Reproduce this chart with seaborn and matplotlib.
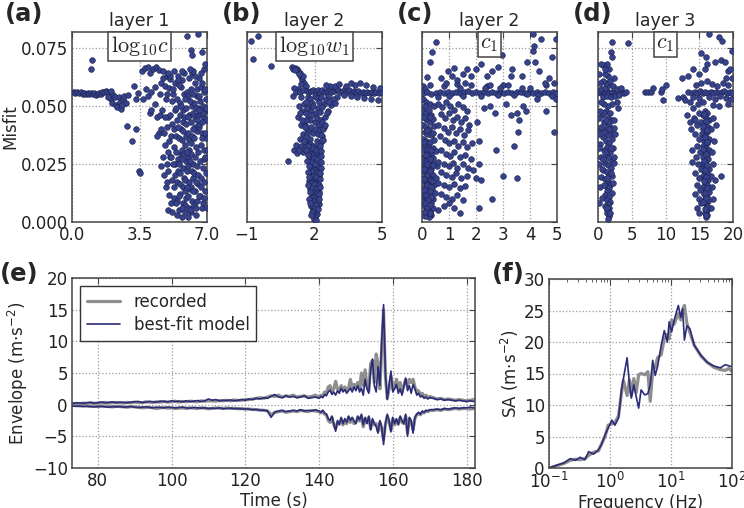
import numpy as np
import matplotlib
matplotlib.use("Agg")
import matplotlib.pyplot as plt
import seaborn as sns
from matplotlib.lines import Line2D

sns.set_style("white")
plt.rcParams['font.family'] = ['DejaVu Sans']

# ---------------- scatter data (parameter value, misfit) ----------------
pts_a = [
 (0.08,.0560),(0.18,.0557),(0.27,.0561),(0.36,.0556),(0.45,.0559),(0.55,.0554),(0.63,.0557),(0.72,.0553),(0.82,.0556),(0.9,.0551),
 (0.98,.0555),(1.07,.0552),(1.16,.0556),(1.25,.0550),(1.33,.0554),(1.42,.0557),(1.5,.0553),(1.58,.0560),(1.66,.0563),(1.74,.0567),
 (1.82,.0559),(1.9,.0556),(1.97,.0545),(2.03,.0530),(2.08,.0512),(2.14,.0548),(2.22,.0538),(2.28,.0505),(2.35,.0497),(2.42,.0540),
 (2.5,.0520),(2.55,.0488),(2.62,.0532),(2.7,.0545),(2.8,.0515),(2.88,.0548),(1.85,.0540),(2.0,.0565),(2.6,.0505),
 (1.0,.0660),(1.04,.0700),(2.85,.0415),(3.12,.0350),(3.32,.0400),(3.48,.0222),(3.53,.0210),(3.2,.0585),(3.42,.0555),(3.3,.0530),
 (3.62,.0650),(3.78,.0663),(3.92,.0668),(4.05,.0642),(4.22,.0662),(4.38,.0668),(4.52,.0655),(3.82,.0572),(3.95,.0545),(4.12,.0562),
 (4.3,.0510),(4.02,.0470),(4.4,.0452),(3.7,.0532),(4.62,.0600),(4.72,.0622),(4.82,.0585),(4.9,.0632),(4.28,.0582),(4.12,.0485),
 (4.5,.0382),(4.42,.0370),(4.6,.0402),(4.8,.0332),(4.7,.0282),(4.62,.0242),(4.76,.0202),(4.88,.0152),(4.55,.0462),(4.85,.0532),
 (4.68,.0482),(4.95,.0412),(4.58,.0552),
 (4.97,.0052),(5.03,.0118),(4.99,.0222),(5.05,.0348),(4.96,.0452),(5.02,.0578),(5.08,.0282),(4.94,.0172),
 (5.12,.0082),(5.18,.0182),(5.13,.0282),(5.2,.0422),(5.16,.0522),(5.1,.0618),(5.19,.0042),(5.14,.0372),
 (5.27,.0152),(5.33,.0252),(5.29,.0322),(5.35,.0482),(5.26,.0552),(5.31,.0102),(5.36,.0202),(5.28,.0402),(5.32,.0602),
 (5.42,.0032),(5.47,.0092),(5.44,.0172),(5.49,.0272),(5.41,.0372),(5.46,.0442),(5.43,.0532),(5.48,.0632),(5.5,.0222),(5.4,.0492),
 (5.57,.0052),(5.62,.0122),(5.58,.0212),(5.63,.0292),(5.56,.0362),(5.61,.0462),(5.59,.0512),(5.64,.0582),(5.55,.0252),(5.66,.0402),(5.6,.0162),
 (5.72,.0022),(5.77,.0082),(5.73,.0152),(5.78,.0232),(5.71,.0312),(5.76,.0392),(5.74,.0482),(5.79,.0552),(5.7,.0612),(5.8,.0192),(5.75,.0432),(5.72,.0352),
 (5.87,.0042),(5.92,.0102),(5.88,.0182),(5.93,.0262),(5.86,.0332),(5.91,.0422),(5.89,.0492),(5.94,.0562),(5.85,.0132),(5.95,.0222),(5.9,.0372),(5.88,.0072),
 (6.02,.0022),(6.07,.0062),(6.03,.0112),(6.08,.0172),(6.01,.0242),(6.06,.0312),(6.04,.0382),(6.09,.0462),(6.0,.0542),(6.05,.0622),(6.1,.0142),(6.03,.0282),(6.07,.0352),
 (6.17,.0042),(6.22,.0092),(6.18,.0152),(6.23,.0222),(6.16,.0292),(6.21,.0372),(6.19,.0432),(6.24,.0502),(6.15,.0572),(6.2,.0642),(6.25,.0192),(6.18,.0342),
 (6.32,.0072),(6.37,.0132),(6.33,.0212),(6.38,.0282),(6.31,.0362),(6.36,.0452),(6.34,.0512),(6.39,.0602),(6.3,.0252),(6.4,.0412),
 (6.47,.0092),(6.52,.0162),(6.48,.0242),(6.53,.0302),(6.46,.0392),(6.51,.0462),(6.49,.0542),(6.54,.0492),(6.45,.0062),(6.55,.0202),(6.5,.0572),
 (6.62,.0112),(6.67,.0192),(6.63,.0262),(6.68,.0332),(6.61,.0412),(6.66,.0472),(6.64,.0522),(6.69,.0582),(6.6,.0622),(6.7,.0152),
 (6.77,.0082),(6.82,.0172),(6.78,.0232),(6.83,.0312),(6.76,.0382),(6.81,.0452),(6.79,.0502),(6.84,.0562),(6.75,.0602),(6.85,.0272),
 (6.92,.0132),(6.95,.0212),(6.91,.0282),(6.96,.0362),(6.93,.0442),(6.97,.0482),(6.94,.0532),(6.9,.0572),
 (5.98,.0802),(6.55,.0812),(6.15,.0742),(6.22,.0722),(6.72,.0732),(6.85,.0662),(6.92,.0682),(6.3,.0652),(6.7,.0642),(5.5,.0612),(5.8,.0642),
 (5.0,.0300),(5.1,.0460),(5.22,.0250),(5.24,.0572),(5.38,.0082),(5.39,.0302),(5.52,.0412),(5.53,.0112),(5.68,.0062),(5.69,.0272),
 (5.67,.0502),(5.82,.0292),(5.83,.0452),(5.84,.0532),(5.97,.0152),(5.98,.0302),(5.99,.0452),(6.12,.0052),(6.11,.0262),(6.13,.0522),
 (6.27,.0132),(6.28,.0402),(6.29,.0552),(6.42,.0032),(6.43,.0172),(6.44,.0322),(6.41,.0492),(6.57,.0112),(6.58,.0422),(6.59,.0542),
 (6.72,.0062),(6.73,.0362),(6.74,.0432),(6.87,.0102),(6.88,.0382),(6.89,.0482),(6.98,.0062),(6.99,.0312),(4.9,.0252),(4.8,.0452),
 (4.75,.0382),(4.92,.0552),(5.06,.0632),(5.7,.0652),(6.1,.0662),(6.4,.0632),(6.8,.0472),(6.95,.0492),(6.6,.0482),(6.3,.0472),
 (6.5,.0442),(5.55,.0592),(5.3,.0652),(5.0,.0642),(4.7,.0652),
]

pts_b = [
 (-0.82,.0780),(-0.5,.0802),(-0.72,.0702),(0.05,.0672),(0.82,.0262),(1.08,.0312),(1.18,.0332),(1.22,.0298),
 (0.98,.0668),(1.05,.0662),(1.12,.0665),(1.2,.0660),(1.28,.0652),(1.35,.0645),(1.4,.0625),(1.45,.0612),(1.5,.0630),(1.55,.0600),
 (1.42,.0595),(1.6,.0585),(1.3,.0638),(1.15,.0655),(1.25,.0575),(1.05,.0545),(1.1,.0580),(1.18,.0560),(1.35,.0560),(1.5,.0570),
 (1.65,.0565),(1.4,.0540),(1.3,.0500),(1.45,.0480),(1.25,.0455),(1.38,.0420),(1.55,.0510),(1.62,.0470),(1.48,.0380),(1.35,.0360),
 (1.42,.0330),(1.5,.0300),(1.3,.0310),(1.58,.0420),
 (1.75,.0560),(1.85,.0565),(1.95,.0570),(2.05,.0562),(2.15,.0568),(2.25,.0558),(2.35,.0570),(2.45,.0562),(2.55,.0566),(2.65,.0572),
 (2.75,.0560),(2.85,.0567),(2.95,.0575),(3.05,.0568),(3.15,.0560),(3.25,.0565),(3.35,.0572),(3.45,.0562),(3.55,.0570),(3.65,.0558),
 (3.75,.0566),(3.85,.0560),(3.95,.0565),(4.05,.0558),(4.15,.0562),(4.25,.0556),(4.35,.0560),(4.45,.0555),(4.55,.0559),(4.65,.0556),
 (4.75,.0560),(4.85,.0557),(4.95,.0561),(2.9,.0588),(3.1,.0595),(3.4,.0585),(3.6,.0600),(3.8,.0592),(4.0,.0598),(4.3,.0590),
 (4.6,.0582),(4.9,.0578),(2.7,.0585),(2.5,.0592),(3.3,.0550),(3.6,.0545),(3.9,.0540),(4.2,.0535),(4.5,.0530),(4.8,.0528),
 (3.0,.0540),(2.8,.0530),(2.6,.0545),
 (1.7,.0540),(1.8,.0530),(1.9,.0515),(2.0,.0545),(2.1,.0535),(2.2,.0520),(2.3,.0540),(2.4,.0510),(2.5,.0525),(1.75,.0495),
 (1.85,.0480),(1.95,.0500),(2.05,.0470),(2.15,.0490),(2.25,.0475),(2.35,.0495),(2.45,.0455),(2.6,.0480),(1.7,.0450),(1.8,.0440),
 (1.9,.0460),(2.0,.0430),(2.1,.0450),(2.2,.0420),(2.3,.0440),(2.4,.0410),(1.65,.0400),(1.75,.0395),(1.85,.0410),(1.95,.0385),
 (2.05,.0400),(2.15,.0380),(2.25,.0395),(2.35,.0370),(1.7,.0350),(1.8,.0360),(2.1,.0350),(2.3,.0345),(1.6,.0330),(2.75,.0505),
 (2.65,.0520),(2.9,.0515),(1.6,.0520),(1.65,.0490),
 (1.82,.0335),(1.95,.0330),(2.08,.0325),(2.18,.0320),(1.88,.0310),(2.02,.0305),(2.14,.0300),(1.78,.0295),(1.92,.0290),(2.06,.0285),
 (2.2,.0280),(1.85,.0270),(1.98,.0265),(2.12,.0260),(1.8,.0250),(1.94,.0245),(2.08,.0240),(2.22,.0238),(1.87,.0230),(2.01,.0225),
 (2.15,.0220),(1.79,.0212),(1.93,.0208),(2.06,.0205),(2.19,.0200),(1.84,.0192),(1.98,.0188),(2.11,.0185),(1.77,.0178),(1.91,.0172),
 (2.04,.0168),(2.17,.0165),(1.86,.0158),(2.0,.0152),(2.13,.0148),(1.8,.0142),(1.94,.0138),(2.08,.0132),(2.21,.0128),(1.88,.0122),
 (2.02,.0118),(2.15,.0112),(1.83,.0105),(1.96,.0100),(2.1,.0095),(1.9,.0088),(2.04,.0082),(2.18,.0078),(1.86,.0070),(2.0,.0065),
 (2.12,.0060),(1.93,.0052),(2.07,.0048),(1.98,.0040),(2.1,.0035),(1.95,.0028),(2.03,.0022),(1.99,.0015),
 (1.9,.0318),(2.05,.0312),(1.97,.0278),(2.1,.0272),(1.86,.0258),(2.0,.0252),(1.9,.0218),(2.12,.0212),(1.95,.0198),(2.07,.0195),
 (1.84,.0168),(1.98,.0162),(2.2,.0158),(1.9,.0148),(2.05,.0142),(1.96,.0128),(2.1,.0124),(1.92,.0108),(2.06,.0104),(1.97,.0092),
 (2.14,.0090),(1.9,.0075),(2.08,.0072),(2.02,.0058),(1.88,.0045),
 (1.62,.0440),(2.32,.0430),(1.58,.0410),(2.38,.0400),(1.66,.0380),(2.28,.0375),(1.6,.0365),(2.36,.0355),(1.7,.0330),(2.26,.0330),
 (1.64,.0310),(2.3,.0305),(1.72,.0290),(2.27,.0285),(1.68,.0265),(2.3,.0260),(1.74,.0240),(2.28,.0235),(1.7,.0215),(2.25,.0210),
 (1.76,.0195),(2.24,.0185),(1.72,.0160),(2.26,.0150),(1.78,.0130),(2.22,.0120),(1.75,.0100),(2.2,.0100),(1.8,.0080),(2.16,.0055),
 (1.85,.0030),(2.08,.0010),(1.55,.0350),(1.45,.0440),(2.45,.0420),(2.55,.0470),(1.35,.0470),
]

pts_c = [
 (0.05,.0480),(0.15,.0470),(0.25,.0485),(0.35,.0460),(0.1,.0450),(0.2,.0440),(0.3,.0430),(0.4,.0445),(0.05,.0420),(0.15,.0410),
 (0.25,.0400),(0.45,.0415),(0.1,.0390),(0.2,.0380),(0.35,.0375),(0.05,.0360),(0.15,.0350),(0.3,.0345),(0.45,.0355),(0.1,.0330),
 (0.25,.0325),(0.4,.0320),(0.05,.0310),(0.2,.0300),(0.35,.0295),(0.5,.0305),(0.1,.0285),(0.25,.0280),(0.4,.0275),(0.05,.0265),
 (0.15,.0260),(0.3,.0255),(0.45,.0250),(0.1,.0240),(0.2,.0235),(0.35,.0230),(0.55,.0240),(0.05,.0220),(0.15,.0215),(0.28,.0210),
 (0.42,.0205),(0.1,.0195),(0.22,.0190),(0.35,.0185),(0.5,.0190),(0.05,.0175),(0.17,.0170),(0.3,.0165),(0.45,.0160),(0.1,.0150),
 (0.24,.0145),(0.38,.0140),(0.05,.0130),(0.18,.0125),(0.32,.0120),(0.48,.0125),(0.1,.0110),(0.25,.0105),(0.4,.0100),(0.05,.0090),
 (0.18,.0085),(0.32,.0080),(0.1,.0070),(0.25,.0065),(0.4,.0060),(0.15,.0050),(0.3,.0045),(0.2,.0035),(0.35,.0030),(0.25,.0022),
 (0.12,.0028),
 (0.08,.0455),(0.3,.0455),(0.18,.0395),(0.4,.0385),(0.08,.0345),(0.22,.0315),(0.32,.0310),(0.15,.0290),(0.3,.0270),(0.2,.0250),
 (0.4,.0245),(0.08,.0230),(0.3,.0220),(0.2,.0205),(0.08,.0185),(0.28,.0180),(0.38,.0175),(0.2,.0160),(0.32,.0150),(0.08,.0140),
 (0.28,.0135),(0.15,.0115),(0.35,.0110),(0.22,.0095),(0.12,.0080),(0.3,.0075),(0.2,.0060),(0.1,.0045),(0.28,.0040),
 (0.05,.0530),(0.15,.0520),(0.3,.0510),(0.45,.0500),(0.1,.0500),(0.02,.0585),(0.1,.0575),(0.19,.0626),(0.31,.0691),(0.37,.0734),
 (0.52,.0777),
 (0.05,.0555),(0.2,.0560),(0.35,.0552),(0.5,.0558),(0.65,.0562),(0.8,.0555),(0.95,.0560),(1.1,.0556),(1.25,.0562),(1.4,.0558),
 (1.55,.0560),(1.7,.0565),(1.85,.0558),(2.0,.0562),(2.15,.0556),(2.3,.0560),(2.45,.0555),(2.6,.0562),(2.75,.0558),(2.9,.0560),
 (3.05,.0555),(3.2,.0562),(3.35,.0558),(3.5,.0560),(3.65,.0562),(3.8,.0556),(3.95,.0560),(4.1,.0558),(4.25,.0562),(4.4,.0556),
 (4.55,.0560),(4.7,.0557),(4.85,.0561),(4.97,.0558),(0.6,.0540),(1.0,.0545),(1.5,.0542),(2.2,.0545),(2.8,.0550),(3.4,.0548),
 (3.9,.0552),(4.3,.0550),(4.8,.0545),(0.3,.0590),(0.8,.0585),(1.3,.0595),(1.8,.0590),(2.4,.0588),(3.0,.0592),(3.7,.0580),
 (4.6,.0590),(4.9,.0600),
 (0.6,.0510),(0.75,.0495),(0.9,.0520),(1.05,.0500),(1.2,.0485),(1.35,.0510),(1.5,.0495),(1.65,.0480),(0.7,.0465),(0.85,.0450),
 (1.0,.0470),(1.15,.0440),(1.3,.0455),(1.45,.0430),(1.6,.0450),(1.75,.0420),(0.6,.0420),(0.8,.0405),(0.95,.0390),(1.1,.0410),
 (1.25,.0385),(1.4,.0400),(1.55,.0375),(1.7,.0395),(0.65,.0370),(0.85,.0355),(1.0,.0340),(1.2,.0350),(1.35,.0330),(1.5,.0345),
 (1.65,.0325),(1.85,.0340),(0.7,.0310),(0.9,.0295),(1.05,.0285),(1.2,.0300),(1.4,.0280),(1.6,.0290),(1.8,.0270),(0.6,.0260),
 (0.8,.0250),(1.0,.0240),(1.15,.0255),(1.3,.0235),(1.5,.0250),(1.7,.0235),(1.9,.0225),(0.7,.0215),(0.9,.0205),(1.1,.0195),
 (1.25,.0210),(1.45,.0190),(1.65,.0200),(0.6,.0170),(0.8,.0160),(1.0,.0150),(1.2,.0165),(1.4,.0145),(1.6,.0155),(0.7,.0120),
 (0.9,.0110),(1.1,.0100),(1.3,.0115),(1.5,.0095),(0.8,.0070),(1.2,.0060),(1.4,.0040),(0.6,.0050),(1.0,.0080),
 (0.7,.0620),(0.9,.0600),(1.1,.0630),(1.3,.0615),(1.5,.0640),(1.65,.0660),(1.8,.0630),(1.2,.0665),(0.95,.0650),(1.6,.0600),(1.4,.0580),
 (2.05,.0430),(2.1,.0350),(2.1,.0250),(2.2,.0180),(2.0,.0190),(2.1,.0060),(2.3,.0490),(2.5,.0500),(2.7,.0470),(2.6,.0650),
 (2.8,.0670),(2.4,.0630),(2.2,.0680),(2.0,.0660),(2.35,.0580),(2.95,.0720),(3.35,.0660),(3.1,.0510),(3.3,.0460),(3.5,.0470),
 (3.55,.0390),(3.6,.0440),(3.4,.0330),(3.75,.0500),(3.85,.0480),(3.5,.0190),(3.0,.0200),(2.75,.0310),(2.6,.0100),(3.7,.0630),
 (3.9,.0690),(4.1,.0740),(4.15,.0760),(4.2,.0690),(4.35,.0650),(4.55,.0600),(4.4,.0790),(4.1,.0810),(4.95,.0790),(4.8,.0710),
 (4.95,.0530),(4.6,.0480),(4.9,.0390),(4.7,.0620),(4.25,.0530),(4.0,.0580),(3.2,.0590),(3.3,.0630),(2.5,.0590),(2.9,.0580),
]

pts_d = [
 (0.2,.0560),(0.5,.0555),(0.8,.0562),(1.1,.0558),(1.4,.0565),(1.7,.0556),(2.0,.0562),(2.3,.0558),(2.6,.0555),(2.9,.0560),
 (3.2,.0556),(3.5,.0562),(3.8,.0558),(4.1,.0560),(0.4,.0575),(1.0,.0580),(1.6,.0590),(2.2,.0585),(2.8,.0575),(3.4,.0580),
 (0.7,.0540),(1.3,.0545),(1.9,.0540),(2.5,.0542),(3.1,.0550),(1.2,.0600),(1.8,.0610),(2.4,.0620),(1.5,.0630),(0.8,.0610),
 (1.1,.0640),(1.6,.0660),(1.4,.0680),(0.1,.0640),(0.3,.0600),(2.8,.0520),(2.0,.0510),(1.5,.0500),(0.9,.0510),(0.4,.0520),(3.0,.0490),
 (1.2,.0480),(1.8,.0470),(0.6,.0460),(1.5,.0450),(2.1,.0440),(0.9,.0430),(1.7,.0420),(1.3,.0410),(2.3,.0405),(0.4,.0400),
 (1.0,.0390),(1.9,.0385),(1.5,.0375),(0.7,.0365),(2.0,.0360),(1.2,.0350),(1.7,.0340),(0.3,.0335),(1.4,.0325),(2.2,.0320),
 (0.9,.0310),(1.8,.0300),(1.3,.0290),(0.5,.0280),(1.6,.0275),(2.0,.0265),(1.1,.0255),(0.2,.0250),(1.5,.0245),(1.9,.0235),
 (0.8,.0225),(1.3,.0215),(1.7,.0205),(2.1,.0200),(0.5,.0195),(1.0,.0185),(1.5,.0175),(1.9,.0165),(1.2,.0155),(0.3,.0150),
 (1.7,.0145),(1.4,.0135),(2.0,.0125),(1.1,.0118),(1.6,.0110),(0.6,.0105),(1.3,.0095),(1.8,.0088),(1.5,.0078),(1.1,.0068),
 (1.7,.0060),(1.4,.0050),(1.3,.0038),(1.6,.0025),(1.55,.0015),
 (1.6,.0400),(1.2,.0440),(0.9,.0470),(2.4,.0440),(0.5,.0410),(2.5,.0380),(1.9,.0320),(1.1,.0300),(2.4,.0280),(0.8,.0270),
 (1.9,.0210),(2.3,.0255),(0.6,.0230),(1.4,.0190),(2.2,.0170),(0.9,.0160),(1.3,.0060),(1.8,.0040),(0.2,.0080),(0.1,.0320),
 (0.2,.0450),(0.1,.0380),(0.3,.0480),
 (2.1,.0777),(4.5,.0774),(1.9,.0734),(2.0,.0712),(0.7,.0676),(1.0,.0661),(0.5,.0680),
 (6.9,.0562),(7.4,.0562),(7.8,.0562),(8.1,.0578),(9.4,.0562),(9.6,.0526),(9.5,.0576),(10.1,.0590),(11.8,.0534),(12.6,.0540),(12.9,.0526),
 (13.4,.0560),(13.9,.0556),(14.3,.0562),(14.7,.0558),(15.1,.0565),(15.5,.0556),(15.9,.0562),(16.3,.0558),(16.7,.0560),(17.1,.0556),
 (17.5,.0562),(17.9,.0558),(18.3,.0560),(18.7,.0565),(19.1,.0556),(19.5,.0560),(19.9,.0558),(14.5,.0590),(15.3,.0600),(16.1,.0610),
 (16.9,.0595),(17.7,.0585),(18.5,.0600),(19.3,.0590),(19.8,.0620),(18.9,.0620),(14.1,.0540),(15.0,.0535),(16.5,.0540),(17.3,.0530),
 (18.1,.0545),(19.0,.0535),(19.7,.0530),(18.0,.0500),(19.2,.0510),(17.0,.0505),(14.8,.0510),(13.7,.0520),(15.6,.0520),
 (15.0,.0640),(15.8,.0660),(16.2,.0680),(17.3,.0690),(18.2,.0700),(18.8,.0690),(19.2,.0650),(19.6,.0660),(17.9,.0799),(19.9,.0740),
 (16.0,.0710),(13.4,.0630),(14.1,.0660),(15.3,.0730),(12.5,.0620),(16.5,.0810),(18.3,.0780),
 (15.8,.0480),(16.2,.0470),(15.5,.0460),(16.0,.0450),(16.4,.0440),(15.3,.0430),(15.9,.0420),(16.3,.0410),(15.6,.0400),(16.1,.0390),
 (15.4,.0380),(15.9,.0370),(16.5,.0360),(15.7,.0350),(16.2,.0340),(15.5,.0330),(16.0,.0320),(16.4,.0310),(15.8,.0300),(16.1,.0290),
 (15.6,.0280),(16.3,.0270),(15.9,.0260),(15.4,.0250),(16.0,.0240),(16.4,.0230),(15.7,.0220),(16.1,.0210),(15.5,.0200),(15.9,.0190),
 (16.3,.0180),(15.8,.0170),(16.2,.0160),(15.6,.0150),(16.0,.0140),(16.4,.0130),(15.7,.0120),(16.1,.0110),(15.9,.0100),(16.3,.0090),
 (15.8,.0080),(16.1,.0070),(16.0,.0060),(16.2,.0050),(15.9,.0040),(16.1,.0030),(16.0,.0020),
 (14.2,.0450),(14.6,.0420),(13.8,.0400),(14.4,.0380),(15.0,.0360),(14.7,.0330),(14.0,.0310),(15.1,.0300),(14.5,.0280),(13.9,.0260),
 (14.8,.0250),(15.2,.0230),(14.3,.0210),(14.9,.0190),(14.6,.0160),(15.1,.0140),(14.4,.0120),(14.9,.0100),(15.2,.0080),(14.7,.0060),
 (15.0,.0040),(17.0,.0450),(16.8,.0400),(17.2,.0350),(16.9,.0300),(17.1,.0250),(16.7,.0200),(17.3,.0180),(16.9,.0150),(17.0,.0100),
 (16.8,.0060),(18.2,.0200),(17.5,.0420),(14.9,.0470),(14.1,.0490),(13.6,.0430),(13.2,.0460),(14.3,.0440),
 (15.7,.0465),(16.0,.0435),(15.6,.0415),(16.2,.0395),(15.8,.0365),(16.1,.0345),(15.6,.0315),(16.0,.0295),(15.7,.0265),(16.2,.0245),
 (15.8,.0225),(16.0,.0195),(15.7,.0175),(16.1,.0145),(15.8,.0125),(16.0,.0105),(15.6,.0085),(16.2,.0065),(15.9,.0055),(16.0,.0030),
]

panel_titles = ["layer 1", "layer 2", "layer 2", "layer 3"]
param_labels = [r"$\mathrm{log}_{10}c$", r"$\mathrm{log}_{10}w_1$", r"$c_1$", r"$c_1$"]
panel_letters = ["(a)", "(b)", "(c)", "(d)", "(e)", "(f)"]
xlims = [(0, 7), (-1, 5), (0, 5), (0, 20)]
xticks = [[0, 3.5, 7], [-1, 2, 5], [0, 1, 2, 3, 4, 5], [0, 5, 10, 15, 20]]
misfit_ticks = [0, 0.025, 0.05, 0.075]

# ---------------- envelope data ----------------
t_quiet = np.arange(73, 140)          # 1 s samples
t_active = np.arange(140, 170.5, 0.5) # 0.5 s samples
t_tail = np.arange(171, 183)

model_up_quiet = [0.2,0.25,0.3,0.2,0.3,0.35,0.25,0.3,0.4,0.3,0.35,0.45,0.3,0.4,0.35,0.3,0.4,0.45,
  0.5,0.35,0.4,0.5,0.45,0.4,0.55,0.5,0.45,0.6,0.5,0.55,0.45,0.6,0.5,0.55,0.65,0.5,0.6,0.9,
  0.7,0.8,0.6,0.7,0.65,0.75,0.6,0.7,0.8,0.7,
  0.9,0.8,1.0,0.9,1.1,1.0,1.3,1.6,1.2,1.1,1.4,1.2,1.3,1.1,1.2,1.4,1.0,1.1,1.2]
model_lo_quiet = [-0.2,-0.25,-0.2,-0.3,-0.25,-0.3,-0.35,-0.3,-0.25,-0.35,-0.4,-0.3,-0.35,-0.3,-0.4,-0.35,-0.3,-0.4,
  -0.45,-0.4,-0.35,-0.45,-0.5,-0.4,-0.45,-0.5,-0.4,-0.45,-0.5,-0.45,-0.4,-0.5,-0.55,-0.45,-0.5,-0.55,-0.5,-0.6,
  -0.55,-0.6,-0.5,-0.65,-0.6,-0.55,-0.65,-0.6,-0.7,-0.65,
  -0.7,-0.8,-0.75,-0.9,-0.85,-1.0,-2.0,-1.2,-1.0,-0.9,-1.1,-1.0,-0.9,-1.0,-0.8,-1.0,-0.9,-1.0,-0.8]
rec_up_quiet = [0.1,0.2,0.15,0.25,0.2,0.3,0.2,0.25,0.3,0.35,0.25,0.3,0.35,0.3,0.25,0.35,0.3,0.4,
  0.35,0.3,0.45,0.4,0.35,0.45,0.4,0.5,0.4,0.45,0.55,0.4,0.5,0.45,0.55,0.5,0.45,0.6,0.55,0.6,
  0.6,0.55,0.65,0.6,0.7,0.6,0.75,0.65,0.7,0.8,
  0.8,0.9,1.0,1.1,1.0,1.2,1.4,1.3,1.5,1.2,1.4,1.3,1.5,1.2,1.3,1.4,1.2,1.3,1.5]
rec_lo_quiet = [-0.1,-0.15,-0.2,-0.15,-0.2,-0.25,-0.2,-0.3,-0.25,-0.2,-0.3,-0.35,-0.25,-0.3,-0.35,-0.4,-0.3,-0.35,
  -0.4,-0.5,-0.45,-0.4,-0.5,-0.6,-0.5,-0.45,-0.55,-0.5,-0.6,-0.55,-0.5,-0.6,-0.5,-0.55,-0.6,-0.5,-0.55,-0.65,
  -0.6,-0.5,-0.55,-0.6,-0.5,-0.6,-0.55,-0.65,-0.6,-0.7,
  -0.7,-0.75,-0.8,-0.85,-0.9,-0.95,-1.6,-1.2,-1.1,-1.0,-1.2,-1.1,-1.0,-1.1,-0.9,-1.0,-1.1,-0.9,-1.0]

model_up_active = [1.0,1.3,1.1,1.6,1.4,2.0,2.3,1.6,2.0,1.5, 2.2,1.8,2.6,2.0,2.4,1.8,2.2,2.6,2.0,2.8,
  2.2,3.0,2.0,2.6,1.5,4.0,2.5,1.8,5.5,7.2, 3.0,2.0,6.0,3.0,10.0,15.8,5.0,0.8,3.0,5.3,
  2.0,2.5,3.2,1.8,2.5,1.5,2.8,4.2,2.2,3.0, 1.8,3.2,2.5,1.5,1.8,1.2,1.4,1.0,1.2,0.9, 1.1]
rec_up_active = [1.2,1.5,1.3,2.0,1.8,2.8,3.0,2.0,2.5,3.7, 2.5,2.2,3.0,2.4,2.8,2.3,2.6,4.0,2.6,3.2,
  2.8,3.5,2.6,5.0,3.0,5.5,3.0,2.2,6.5,7.0, 3.5,8.0,6.5,2.5,9.0,15.0,4.5,1.0,2.5,4.5,
  2.5,3.0,4.0,2.5,3.5,2.0,3.0,4.0,3.0,4.0, 3.5,4.0,2.8,2.0,2.2,1.5,1.8,1.2,1.5,1.1, 1.3]
model_lo_active = [-1.0,-1.2,-0.9,-1.3,-1.5,-2.2,-2.5,-1.8,-3.0,-4.2, -2.5,-3.2,-2.0,-3.0,-2.2,-2.8,-1.8,-2.5,-2.0,-2.6,
  -3.0,-1.8,-2.4,-1.5,-3.2,-2.0,-3.0,-1.8,-4.0,-2.2, -3.0,-3.4,-4.5,-2.5,-3.5,-6.3,-3.0,-1.5,-2.5,-4.3,
  -2.0,-3.0,-2.2,-3.2,-1.8,-2.5,-3.0,-1.5,-5.0,-2.0, -2.5,-4.5,-2.0,-1.5,-1.2,-1.5,-1.0,-1.2,-0.9,-1.0, -0.8]
rec_lo_active = [-1.1,-1.3,-1.0,-1.5,-1.6,-2.5,-2.8,-2.0,-3.2,-3.8, -2.8,-3.0,-2.3,-3.2,-2.5,-3.0,-2.0,-2.8,-2.2,-3.0,
  -2.8,-2.0,-2.6,-1.8,-3.5,-2.2,-2.8,-2.0,-3.8,-2.5, -3.2,-3.0,-4.2,-2.8,-3.8,-5.5,-3.2,-1.8,-2.8,-4.0,
  -2.2,-3.2,-2.5,-3.0,-2.0,-2.8,-3.0,-1.8,-4.5,-2.2, -2.8,-4.0,-2.2,-1.6,-1.4,-1.6,-1.2,-1.3,-1.0,-1.1, -0.9]

model_up_tail = [1.0,0.8,0.9,0.7,0.8,0.7,0.6,0.7,0.6,0.5,0.6,0.5]
rec_up_tail = [1.1,0.9,1.0,0.8,0.9,0.8,0.7,0.8,0.7,0.6,0.7,0.8]
model_lo_tail = [-0.8,-0.7,-0.8,-0.6,-0.7,-0.6,-0.5,-0.6,-0.5,-0.5,-0.4,-0.5]
rec_lo_tail = [-0.9,-0.8,-0.9,-0.7,-0.8,-0.7,-0.6,-0.7,-0.6,-0.6,-0.7,-0.6]

# ---------------- response spectrum data ----------------
logf_model = [-1.0,-0.89,-0.76,-0.65,-0.57,-0.49,-0.41,-0.35,-0.27,-0.19,-0.14,-0.08,-0.03,0.03,0.08,0.14,0.19,0.22,0.28,0.32,
  0.35,0.39,0.43,0.47,0.51,0.57,0.62,0.66,0.70,0.74,0.78,0.84,0.89,0.94,0.97,1.01,1.05,1.12,1.16,1.19,1.22,1.26,1.31,1.38,
  1.49,1.59,1.70,1.81,1.89,1.95,2.0]
sa_model = [0,0.4,0.8,1.5,1.2,1.7,1.3,2.6,2.2,2.9,3.7,5.3,6.3,7.6,6.8,7.9,12.6,14.2,17.5,13.2,
  11.1,13.2,11.3,9.5,12.4,11.6,11.8,13.2,17.1,14.7,16.1,19.5,21.8,20.0,23.2,21.6,23.4,25.8,23.9,25.3,20.3,22.6,22.1,19.5,
  17.9,16.8,16.2,15.9,16.4,16.2,16.1]
logf_rec = [-1.0,-0.89,-0.76,-0.65,-0.57,-0.49,-0.41,-0.35,-0.27,-0.19,-0.14,-0.08,-0.03,0.03,0.08,0.14,0.19,0.22,0.28,0.32,
  0.35,0.39,0.43,0.47,0.51,0.57,0.62,0.66,0.70,0.74,0.78,0.84,0.89,0.94,0.97,1.01,1.05,1.12,1.16,1.19,1.22,1.26,1.31,1.38,
  1.49,1.59,1.70,1.81,1.89,1.95,2.0]
sa_rec = [0,0.3,0.7,1.2,1.4,1.3,1.5,2.0,2.5,2.7,3.8,5.0,6.8,7.0,7.2,8.3,12.0,13.9,11.5,14.0,
  11.5,14.2,12.0,14.8,15.0,14.8,15.3,10.6,15.5,16.0,17.5,18.0,20.5,21.2,20.5,23.5,22.8,24.5,23.5,25.0,25.8,23.0,21.5,19.5,
  17.8,16.8,16.0,15.6,15.5,15.8,15.3]

# ---------------- styling ----------------
GRAY = '#8e8e8e'
NAVY = '#2b2b78'
DOT_FACE = '#36438c'
DOT_EDGE = '#1b1f4a'
SPINE = '#444444'

W, H = 744, 508
fig = plt.figure(figsize=(W / 100, H / 100), dpi=100)


def rect(x0, y0, x1, y1):
    return [x0 / W, 1 - y1 / H, (x1 - x0) / W, (y1 - y0) / H]


def style(ax):
    ax.grid(True, ls=':', color='#9a9a9a', lw=0.9)
    for s in ax.spines.values():
        s.set_color(SPINE)
        s.set_linewidth(1.1)
    ax.tick_params(direction='in', labelsize=12, length=4, color=SPINE, pad=3,
                   top=True, right=True, labelcolor='#222222')
    ax.tick_params(which='minor', direction='in', length=2, color=SPINE, top=True)


top_x = [(72, 207), (247, 382), (422, 557), (598, 733)]
letter_x = [5, 222, 397, 573]
all_pts = [pts_a, pts_b, pts_c, pts_d]
for i in range(4):
    ax = fig.add_axes(rect(top_x[i][0], 32, top_x[i][1], 222))
    px = [p[0] for p in all_pts[i]]
    py = [p[1] for p in all_pts[i]]
    sns.scatterplot(x=px, y=py, ax=ax, s=17, color=DOT_FACE, edgecolor=DOT_EDGE,
                    linewidth=0.4, zorder=3, legend=False)
    ax.set_xlim(*xlims[i])
    ax.set_ylim(0, 0.082)
    ax.set_xticks(xticks[i])
    ax.set_yticks(misfit_ticks)
    style(ax)
    if i == 0:
        ax.set_ylabel('Misfit', fontsize=12, labelpad=1)
    else:
        ax.set_yticklabels([])
    ax.set_title(panel_titles[i], fontsize=12.5, pad=4)
    ypos = 0.925 if i < 2 else 0.935
    ax.text(0.5, ypos, param_labels[i], transform=ax.transAxes, ha='center', va='center',
            fontsize=16, math_fontfamily='cm', zorder=5,
            bbox=dict(boxstyle='square,pad=0.12', facecolor='white', edgecolor=SPINE, lw=1.1))
    fig.text(letter_x[i] / W, 1 - 14 / H, panel_letters[i], fontsize=17.5, fontweight='bold',
             ha='left', va='center')

# ---------------- (e) envelope ----------------
axe = fig.add_axes(rect(72, 278, 475, 468))
t_all = np.concatenate([t_quiet, t_active, t_tail])
rec_up = np.array(rec_up_quiet + rec_up_active + rec_up_tail)
rec_lo = np.array(rec_lo_quiet + rec_lo_active + rec_lo_tail)
mod_up = np.array(model_up_quiet + model_up_active + model_up_tail)
mod_lo = np.array(model_lo_quiet + model_lo_active + model_lo_tail)
sns.lineplot(x=t_all, y=rec_up, ax=axe, color=GRAY, lw=2.3, sort=False, estimator=None)
sns.lineplot(x=t_all, y=rec_lo, ax=axe, color=GRAY, lw=2.3, sort=False, estimator=None)
sns.lineplot(x=t_all, y=mod_up, ax=axe, color=NAVY, lw=1.2, sort=False, estimator=None)
sns.lineplot(x=t_all, y=mod_lo, ax=axe, color=NAVY, lw=1.2, sort=False, estimator=None)
axe.set_xlim(73, 182.3)
axe.set_ylim(-10, 20)
axe.set_xticks([80, 100, 120, 140, 160, 180])
axe.set_yticks([-10, -5, 0, 5, 10, 15, 20])
style(axe)
axe.set_xlabel('Time (s)', fontsize=12, labelpad=1)
axe.set_ylabel(r'Envelope (m$\cdot$s$^{-2}$)', fontsize=12, labelpad=2)
handles = [Line2D([], [], color=GRAY, lw=2.3), Line2D([], [], color=NAVY, lw=1.2)]
leg = axe.legend(handles, ['recorded', 'best-fit model'], loc='upper left', fontsize=12,
                 frameon=True, fancybox=False, framealpha=1, edgecolor='#333333',
                 borderaxespad=0.5, handlelength=2.0, borderpad=0.4, labelspacing=0.3)
leg.get_frame().set_linewidth(1.0)
fig.text(0 / W, 1 - 274 / H, panel_letters[4], fontsize=17.5, fontweight='bold', ha='left', va='center')

# ---------------- (f) spectrum ----------------
axf = fig.add_axes(rect(549, 279, 732, 468))
axf.set_xscale('log')
sns.lineplot(x=10 ** np.array(logf_rec), y=sa_rec, ax=axf, color=GRAY, lw=2.3, sort=False, estimator=None)
sns.lineplot(x=10 ** np.array(logf_model), y=sa_model, ax=axf, color=NAVY, lw=1.2, sort=False, estimator=None)
axf.set_xlim(0.1, 100)
axf.set_ylim(0, 30)
axf.set_yticks([0, 5, 10, 15, 20, 25, 30])
style(axf)
axf.set_xlabel('Frequency (Hz)', fontsize=12, labelpad=1)
axf.set_ylabel(r'SA (m$\cdot$s$^{-2}$)', fontsize=12, labelpad=2)
fig.text(492 / W, 1 - 274 / H, panel_letters[5], fontsize=17.5, fontweight='bold', ha='left', va='center')

fig.savefig('out.png', dpi=100)
